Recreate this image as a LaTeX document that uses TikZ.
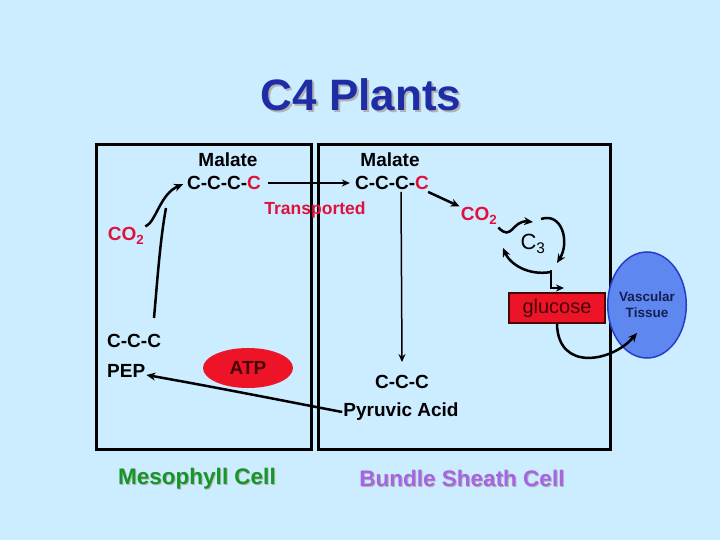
\documentclass[tikz,border=0pt]{standalone}
\usepackage{fontspec}
\setmainfont{Liberation Sans}
\usetikzlibrary{arrows.meta,shapes.geometric}
\definecolor{bg}{RGB}{204,236,255}
\definecolor{titleblue}{RGB}{30,45,165}
\definecolor{myred}{RGB}{222,18,60}
\definecolor{mygreen}{RGB}{22,150,40}
\definecolor{mypurple}{RGB}{165,100,225}
\definecolor{atpred}{RGB}{238,20,40}
\definecolor{maroon}{RGB}{70,5,5}
\definecolor{vascfill}{RGB}{95,135,240}
\definecolor{vascline}{RGB}{40,60,200}
\definecolor{vasctext}{RGB}{20,30,80}
\tikzset{
  lbl/.style={inner sep=1pt, font=\fontsize{19}{22}\selectfont\bfseries},
  redlbl/.style={lbl, text=myred},
  cellbox/.style={draw=black, line width=3pt},
  arr/.style={line width=2.5pt, -{Stealth[length=9pt,width=8pt]}},
  thinarr/.style={line width=1.5pt, -{Stealth[length=8pt,width=7pt]}},
  ln/.style={line width=2.5pt}
}
\newcommand{\shadowed}[2]{\makebox[0pt][l]{\hspace{#1}\raisebox{-#1}{\color{black!30}#2}}#2}
\begin{document}
\begin{tikzpicture}[x=1pt,y=-1pt]
\fill[bg] (0,0) rectangle (720,540);
\useasboundingbox (0,0) rectangle (720,540);
% title
\node[font=\fontsize{44}{50}\selectfont\bfseries, text=titleblue] (title) at (361,96) {\shadowed{2pt}{C4 Plants}};
% cells
\draw[cellbox] (96,145) rectangle (311,449);
\draw[cellbox] (318,145) rectangle (610,449);
% labels
\node[lbl] (malL) at (228,160) {Malate};
\node[lbl] (cccL) at (224,183) {C-C-C-\textcolor{myred}{C}};
\node[lbl] (malR) at (390,160) {Malate};
\node[lbl] (cccR) at (392,183) {C-C-C-\textcolor{myred}{C}};
\node[redlbl, font=\fontsize{17.5}{20}\selectfont\bfseries] (trans) at (315,210) {Transported};
\node[redlbl] (co2L) at (126,236) {CO\textsubscript{2}};
\node[redlbl] (co2R) at (479,216) {CO\textsubscript{2}};
\node[inner sep=1pt, font=\fontsize{22}{24}\selectfont] (c3) at (533,244) {C\textsubscript{3}};
\node[lbl, anchor=west] (ccc2) at (106,341) {C-C-C};
\node[lbl, anchor=west] (pep) at (106,371) {PEP};
\node[ellipse, fill=atpred, minimum width=90pt, minimum height=40pt, inner sep=0pt,
      font=\fontsize{19}{22}\selectfont\bfseries, text=maroon] (atp) at (248,368) {ATP};
\node[lbl] (ccc3) at (402,382) {C-C-C};
\node[lbl] (pyr) at (401,412) {Pyruvic Acid};
\node[draw=maroon, line width=2pt, fill=atpred, minimum width=96pt, minimum height=30pt, inner sep=0pt,
      font=\fontsize{20}{22}\selectfont, text=maroon] (glu) at (557,308) {glucose};
\node[ellipse, draw=vascline, line width=1.5pt, fill=vascfill, minimum width=70pt, minimum height=106pt,
      inner sep=0pt, align=center, font=\fontsize{13.5}{16}\selectfont\bfseries, text=vasctext] (vasc) at (647,305) {Vascular\\Tissue};
\node[font=\fontsize{22.5}{26}\selectfont\bfseries, text=mygreen] (meso) at (197,479) {\shadowed{1pt}{Mesophyll Cell}};
\node[font=\fontsize{22.5}{26}\selectfont\bfseries, text=mypurple] (bund) at (462,479) {\shadowed{1pt}{Bundle Sheath Cell}};
% connectors
\draw[thinarr, shorten <=6pt, shorten >=4pt] (cccL.east) -- (cccR.west);
\draw[arr, shorten >=3pt] (co2L.north east) .. controls (156,222) and (160,194) .. (cccL.west);
\coordinate (pepTop) at (154,318);
\draw[ln] (pepTop) .. controls (157,285) and (160,240) .. (166,208);
\draw[arr] ([xshift=-2pt,yshift=-1pt]cccR.south east) -- (co2R.north west);
\draw[thinarr] ([xshift=9pt,yshift=-1pt]cccR.south) -- ([yshift=12pt]ccc3.north);
\draw[arr] (pyr.west) .. controls (300,404) and (220,388) .. ([yshift=-4pt]pep.east);
% C3 cycle
\draw[arr] ([yshift=-2pt]co2R.south east) .. controls (512,242) and (512,220) .. (533,222);
\draw[arr] (541,219) .. controls (562,212) and (570,242) .. (557,263);
\draw[arr] (551,272) .. controls (528,276) and (510,264) .. (503,248);
\coordinate (brk) at (551,270);
\draw[thinarr, line width=2pt] (brk) -- (551,288) -- (564,288);
\draw[arr] (glu.south) .. controls (558,372) and (612,362) .. (637,333);
\end{tikzpicture}
\end{document}
